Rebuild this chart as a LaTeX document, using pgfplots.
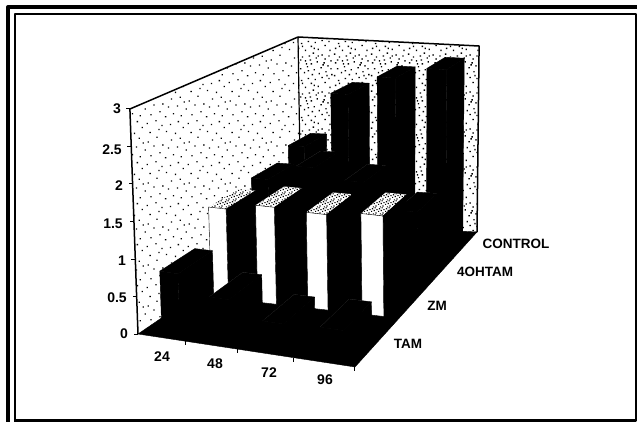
\documentclass[border=0pt]{standalone}
\usepackage{pgfplots}
\pgfplotsset{compat=1.18}
\usepackage{fontspec}
\setmainfont{Liberation Sans}
\usetikzlibrary{patterns}
\pgfdeclarepatternformonly{wallsparse}{\pgfpointorigin}{\pgfqpoint{41pt}{41pt}}{\pgfqpoint{41pt}{41pt}}{
  \foreach \a/\b in {2/3,11/1,19/7,27/2,36/5,6/10,14/13,24/11,33/14,39/9,1/18,9/21,17/19,28/20,37/23,4/28,13/29,22/26,31/30,40/31,7/36,16/38,25/34,34/39,20/33}{
    \pgfpathrectangle{\pgfqpoint{\a pt}{\b pt}}{\pgfqpoint{1.3pt}{1.3pt}}}
  \pgfusepath{fill}}
\pgfdeclarepatternformonly{walldense}{\pgfpointorigin}{\pgfqpoint{37pt}{37pt}}{\pgfqpoint{37pt}{37pt}}{
  \foreach \a/\b in {2/3,9/1,15/5,22/2,29/6,34/1,5/8,12/10,19/9,26/11,33/10,1/13,8/16,16/14,23/15,30/17,36/14,4/20,11/22,18/19,25/21,32/23,2/26,9/28,15/25,21/27,28/26,35/28,6/32,13/33,20/31,26/34,33/33,1/35,17/36,29/30,6/5,18/3,31/13,12/18,27/24,4/29,22/33,35/20,14/29,10/25}{
    \pgfpathrectangle{\pgfqpoint{\a pt}{\b pt}}{\pgfqpoint{1.4pt}{1.4pt}}}
  \pgfusepath{fill}}
\pgfdeclarepatternformonly{topdense}{\pgfpointorigin}{\pgfqpoint{7pt}{7pt}}{\pgfqpoint{7pt}{7pt}}{
  \foreach \a/\b in {0/0,3/1,6/2,1/3,4/4,2/5,5/6}{
    \pgfpathrectangle{\pgfqpoint{\a pt}{\b pt}}{\pgfqpoint{1.3pt}{1.3pt}}}
  \pgfusepath{fill}}
% Projection of (category u, depth v, value z) on to the picture
\newcommand\proj[3]{%
  \pgfmathsetmacro\w{1-0.1551*#1+0.3405*#2}%
  \pgfmathsetmacro\px{(161.94*#1+265.5*#2+138)/\w+#3*(-2.7+1.7*#2+1.7*#1)}%
  \pgfmathsetmacro\py{(-23.92*#1-35.07*#2+334)/\w-#3*(75-13*#2)}%
}
\newcommand\startf{\gdef\coords{}}
\newcommand\pt[3]{\proj{#1}{#2}{#3}\xdef\coords{\coords(\px,\py)}}
\newcommand\face[1]{\edef\tmp{\noexpand\addplot[\unexpanded{#1}] coordinates {\coords} --cycle;}\tmp}
\newcommand\seg[1]{\edef\tmp{\noexpand\addplot[\unexpanded{#1}] coordinates {\coords};}\tmp}
% bar: category i, row j, value, front colour, top style
\newcommand\dobar[5]{%
  \pgfmathsetmacro\ua{(#1+0.34+0.02*#2)/4}\pgfmathsetmacro\ub{(#1+0.72+0.02*#2)/4}%
  \pgfmathsetmacro\va{(#2+0.15)/4}\pgfmathsetmacro\vb{(#2+0.85)/4}%
  \startf\pt{\ua}{\va}{#3}\pt{\ub}{\va}{#3}\pt{\ub}{\vb}{#3}\pt{\ua}{\vb}{#3}\face{fill=white,draw=none}%
  \startf\pt{\ub}{\va}{0}\pt{\ub}{\vb}{0}\pt{\ub}{\vb}{#3}\pt{\ub}{\va}{#3}\face{fill=black,draw=black}%
  \startf\pt{\ua}{\va}{#3}\pt{\ub}{\va}{#3}\pt{\ub}{\vb}{#3}\pt{\ua}{\vb}{#3}\face{#5}%
  \startf\pt{\ua}{\va}{0}\pt{\ub}{\va}{0}\pt{\ub}{\va}{#3}\pt{\ua}{\va}{#3}\face{fill=#4,draw=black}%
}
\begin{document}
\begin{tikzpicture}[line join=round]
\begin{axis}[scale only axis,width=637pt,height=422pt,xmin=0,xmax=637,ymin=0,ymax=422,
  y dir=reverse,hide axis,clip=true]
% page background: keeps the whole 637x422 area in the picture
\addplot[fill=white,draw=white,line width=0.1pt] coordinates {(0,0) (637,0) (637,422) (0,422)} --cycle;
% frame
\addplot[black,line width=4pt] coordinates {(8,422) (8,7) (637,7)};
\addplot[black,line width=2.4pt] coordinates {(15,422) (15,14) (636,14) (636,420.5) (15,420.5)};
% walls
\startf\pt{0}{0}{0}\pt{0}{1}{0}\pt{0}{1}{3}\pt{0}{0}{3}\face{pattern=wallsparse,pattern color=black,draw=none}
\startf\pt{0}{1}{0}\pt{1}{1}{0}\pt{1}{1}{3}\pt{0}{1}{3}\face{pattern=walldense,pattern color=black,draw=none}
\startf\pt{0}{0}{0}\pt{0}{0}{3}\pt{0}{1}{3}\pt{1}{1}{3}\pt{1}{1}{0}\seg{black,line width=1.5pt}
\startf\pt{0}{1}{0}\pt{0}{1}{3}\seg{black,line width=1.2pt}
% floor
\startf\pt{0}{0}{0}\pt{1}{0}{0}\pt{1}{1}{0}\pt{0}{1}{0}\face{fill=black,draw=black}
% CONTROL
\dobar{0}{3}{1.50}{black}{fill=black,draw=black}
\dobar{1}{3}{2.35}{black}{fill=black,draw=black}
\dobar{2}{3}{2.65}{black}{fill=black,draw=black}
\dobar{3}{3}{2.83}{black}{fill=black,draw=black}
% 4OHTAM
\dobar{0}{2}{1.32}{black}{fill=black,draw=black}
\dobar{1}{2}{1.55}{black}{fill=black,draw=black}
\dobar{2}{2}{1.40}{black}{fill=black,draw=black}
\dobar{3}{2}{1.03}{black}{fill=black,draw=black}
% ZM
\dobar{0}{1}{1.26}{white}{pattern=topdense,pattern color=black,draw=none}
\dobar{1}{1}{1.36}{white}{pattern=topdense,pattern color=black,draw=none}
\dobar{2}{1}{1.34}{white}{pattern=topdense,pattern color=black,draw=none}
\dobar{3}{1}{1.41}{white}{pattern=topdense,pattern color=black,draw=none}
% TAM
\dobar{0}{0}{0.80}{black}{fill=black,draw=black}
\dobar{1}{0}{0.55}{black}{fill=black,draw=black}
\dobar{2}{0}{0.33}{black}{fill=black,draw=black}
\dobar{3}{0}{0.36}{black}{fill=black,draw=black}
% value ticks
\pgfplotsinvokeforeach{0,0.5,1,1.5,2,2.5,3}{
  \startf\pt{0}{0}{#1}\proj{0}{0}{#1}\pgfmathsetmacro\qx{\px-4}\xdef\coords{\coords(\qx,\py)}\seg{black,line width=1pt}}
% depth and category ticks
\pgfplotsinvokeforeach{0.25,0.5,0.75,1}{
  \startf\pt{#1}{0}{0}\proj{#1}{0}{0}\pgfmathsetmacro\qy{\py+4}\xdef\coords{\coords(\px,\qy)}\seg{black,line width=1pt}
  \startf\pt{1}{#1}{0}\proj{1}{#1}{0}\pgfmathsetmacro\qx{\px-5}\pgfmathsetmacro\qy{\py+1}\xdef\coords{\coords(\qx,\qy)}\seg{black,line width=1pt}}
\tikzset{vl/.style={font=\fontsize{14}{15}\selectfont\bfseries},sl/.style={font=\fontsize{13.5}{15}\selectfont\bfseries}}
\node[vl] at (axis cs:117,109) {3};
\node[vl] at (axis cs:112,150) {2.5};
\node[vl] at (axis cs:119,186) {2};
\node[vl] at (axis cs:113,224) {1.5};
\node[vl] at (axis cs:122,261) {1};
\node[vl] at (axis cs:117,298) {0.5};
\node[vl] at (axis cs:124,334) {0};
\node[vl] at (axis cs:162,357) {24};
\node[vl] at (axis cs:215,364) {48};
\node[vl] at (axis cs:269,373) {72};
\node[vl] at (axis cs:325,380) {96};
\node[sl] at (axis cs:516,244) {CONTROL};
\node[sl] at (axis cs:485,272) {4OHTAM};
\node[sl] at (axis cs:437,306) {ZM};
\node[sl] at (axis cs:408,344) {TAM};
\end{axis}
\end{tikzpicture}
\end{document}
